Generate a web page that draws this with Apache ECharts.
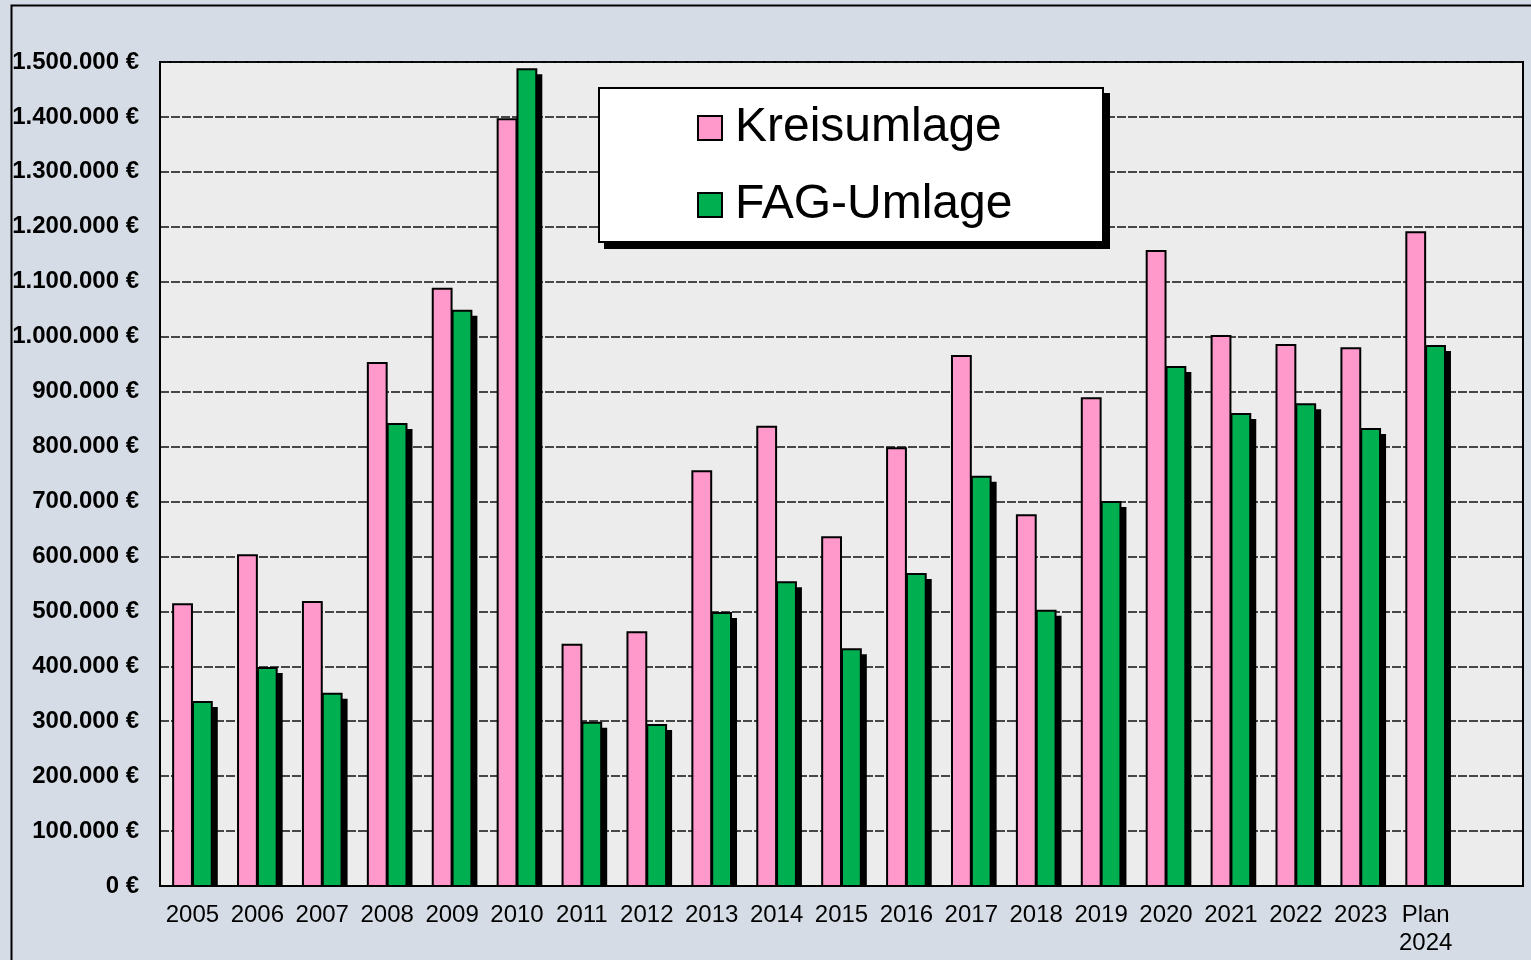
<!DOCTYPE html>
<html>
<head>
<meta charset="utf-8">
<script src="https://cdn.jsdelivr.net/npm/echarts@6/dist/echarts.min.js"></script>
<style>
  html, body { margin: 0; padding: 0; background: #d6dce5; }
  #chart { width: 1531px; height: 960px; }
</style>
</head>
<body>
<div id="chart"></div>
<script>
// Jahre (letzte Kategorie bleibt leer, wie im Original)
const years = ['2005', '2006', '2007', '2008', '2009', '2010', '2011', '2012', '2013', '2014',
  '2015', '2016', '2017', '2018', '2019', '2020', '2021', '2022', '2023', 'Plan\n2024', '']

const kreisumlage = [513000, 602000, 517000, 952000, 1087000, 1396000, 439000, 462000, 755000, 836000,
  635000, 797000, 965000, 675000, 888000, 1156000, 1001000, 985000, 979000, 1190000]

const fagUmlage = [335000, 397000, 350000, 841000, 1047000, 1487000, 297000, 293000, 497000, 553000,
  431000, 568000, 745000, 501000, 699000, 945000, 859000, 877000, 832000, 983000]

const seriesNames = ['Kreisumlage', 'FAG-Umlage']
const colors = ['#ff99cc', '#00b050']

const font = 'Arial, "Liberation Sans", sans-serif'

// 1.500.000 €
const euro = (v) => String(v).replace(/\B(?=(\d{3})+(?!\d))/g, '.') + ' €'

const chart = echarts.init(document.getElementById('chart'))

// Balken selbst zeichnen, damit der Schatten nur hinter dem Balken liegt
// side 0 = links von der Kategoriemitte, 1 = rechts
const makeBar = (color, side, shadow) => (params, api) => {
  const idx = api.value(0)
  const top = api.coord([idx, api.value(1)])
  const base = api.coord([idx, 0])
  const w = api.size([1, 0])[0] * 0.29
  const x = side === 0 ? top[0] - w - 0.5 : top[0] + 0.5
  const h = base[1] - top[1]
  const children = []
  if (shadow) {
    children.push({
      type: 'rect',
      shape: { x: x + 6, y: top[1] + 5, width: w, height: Math.max(h - 5, 0) },
      style: { fill: '#000' },
    })
  }
  children.push({
    type: 'rect',
    shape: { x, y: top[1], width: w, height: h },
    style: { fill: color, stroke: '#000', lineWidth: 2 },
  })
  return { type: 'group', children }
}

const toData = (arr) => arr.map((v, i) => [i, v])

chart.setOption({
  backgroundColor: '#d6dce5',
  animation: false,
  textStyle: { fontFamily: font },
  graphic: [
    {
      type: 'rect',
      left: 9,
      top: 3,
      shape: { width: 1560, height: 990 },
      style: { fill: 'none', stroke: '#000', lineWidth: 2 },
      z: 100,
      silent: true,
    },
    // Legendenkasten mit Schatten
    {
      type: 'rect',
      left: 604,
      top: 93,
      shape: { width: 506, height: 156 },
      style: { fill: '#000' },
      z: 10,
      silent: true,
    },
    {
      type: 'rect',
      left: 598,
      top: 87,
      shape: { width: 504, height: 154 },
      style: { fill: '#fff', stroke: '#000', lineWidth: 2 },
      z: 11,
      silent: true,
    },
  ],
  grid: {
    left: 160,
    top: 62,
    right: 8,
    bottom: 74,
    show: true,
    backgroundColor: '#ececec',
    borderColor: '#000',
    borderWidth: 2,
  },
  legend: {
    orient: 'vertical',
    left: 697,
    top: 103,
    z: 20,
    data: seriesNames,
    icon: 'rect',
    itemWidth: 24,
    itemHeight: 24,
    itemGap: 27,
    padding: 0,
    itemStyle: {
      borderColor: '#000',
      borderWidth: 2,
    },
    textStyle: {
      fontFamily: font,
      fontSize: 48,
      lineHeight: 50,
      color: '#000',
      padding: [0, 0, 0, 8],
    },
  },
  xAxis: {
    type: 'category',
    data: years,
    axisLine: { lineStyle: { color: '#000', width: 2 } },
    axisTick: { show: false },
    axisLabel: {
      color: '#000',
      fontSize: 24,
      lineHeight: 28,
      margin: 15,
      interval: 0,
      fontFamily: font,
    },
  },
  yAxis: {
    type: 'value',
    min: 0,
    max: 1500000,
    interval: 100000,
    axisLine: { show: true, lineStyle: { color: '#000', width: 2 } },
    axisTick: { show: false },
    axisLabel: {
      color: '#000',
      fontSize: 24,
      fontWeight: 'bold',
      margin: 21,
      fontFamily: font,
      formatter: euro,
    },
    splitLine: {
      lineStyle: { color: '#111', width: 1.6, type: [9, 2] },
    },
  },
  series: [
    {
      name: seriesNames[0],
      type: 'custom',
      data: toData(kreisumlage),
      encode: { x: 0, y: 1 },
      itemStyle: { color: colors[0] },
      renderItem: makeBar(colors[0], 0, false),
    },
    {
      name: seriesNames[1],
      type: 'custom',
      data: toData(fagUmlage),
      encode: { x: 0, y: 1 },
      itemStyle: { color: colors[1] },
      renderItem: makeBar(colors[1], 1, true),
    },
  ],
})
</script>
</body>
</html>
